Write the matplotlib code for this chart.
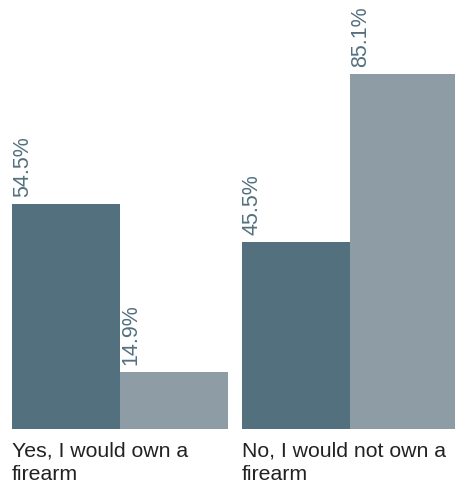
import matplotlib
matplotlib.use("Agg")
import matplotlib.pyplot as plt
import numpy as np

categories = ["Yes, I would own a\nfirearm", "No, I would not own a\nfirearm"]
series_a = [54.5, 45.5]
series_b = [14.9, 85.1]
labels_a = ["54.5%", "45.5%"]
labels_b = ["14.9%", "85.1%"]

dark = "#53707F"
light = "#8E9CA6"
text_col = "#53707F"

plt.rcParams['font.family'] = ['Liberation Sans', 'DejaVu Sans']

fig = plt.figure(figsize=(4.55, 4.85), dpi=100)
ax = fig.add_axes([12/455, 55/485, 443/455, 430/485])

w = 0.47
x = np.arange(len(categories))
bars_a = ax.bar(x - w/2, series_a, width=w, color=dark, linewidth=0)
bars_b = ax.bar(x + w/2, series_b, width=w, color=light, linewidth=0)

ax.set_xlim(-w, -w + 443/230)
ymin = 1.46
ax.set_ylim(ymin, ymin + 430/4.2385)

for bars, labs in ((bars_a, labels_a), (bars_b, labels_b)):
    for b, lab in zip(bars, labs):
        ax.annotate(lab, (b.get_x(), b.get_height()), xytext=(0, 8),
                    textcoords='offset pixels', rotation=90, ha='left', va='bottom',
                    fontsize=15.5, color=text_col)

for xi, cat in zip(x, categories):
    ax.annotate(cat, (xi - w, ymin), xytext=(0, -12), textcoords='offset pixels',
                ha='left', va='top', fontsize=15.3, color='#222222', linespacing=1.3)

ax.axis('off')
fig.savefig("out.png", dpi=100)
